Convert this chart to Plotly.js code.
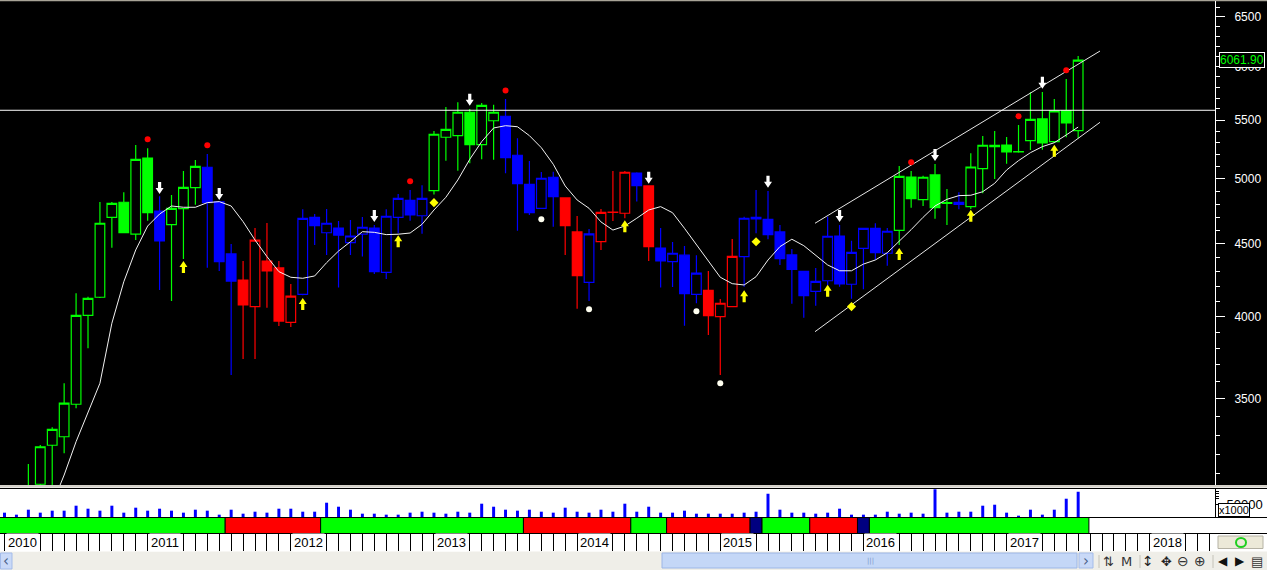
<!DOCTYPE html>
<html><head><meta charset="utf-8">
<script src="https://cdn.plot.ly/plotly-3.0.1.min.js"></script>
<style>html,body{margin:0;padding:0;background:#fff;overflow:hidden}#chart{width:1267px;height:570px}</style>
</head><body><div id="chart"></div>
<script>
// ---------- DATA (monthly, index 0 = Jan 2010) ----------
const open = [2780,2850,2930,3048,3247,3292,3470,4008,4127,4698,
  4814,4571,5172,4746,4642,4764,4929,5095,4818,4427,
  4244,4065,4377,4328,3963,4147,4698,4582,4617,4509,
  4571,4617,4297,4698,4829,4710,4905,5349,5363,5570,
  5285,5494,5534,5195,4956,4767,5013,4848,4588,4228,
  4516,4736,4729,5048,4943,4470,4372,4418,4147,4174,
  3999,4065,4408,4698,4683,4588,4420,4304,4167,4239,
  4558,4215,4468,4615,4432,4600,5015,4834,5032,4811,
  4814,4780,5083,5280,5282,5226,5319,5510,5311,5584,5406];
const high = [2880,2960,3150,3248,3343,3590,4154,4131,4816,4816,
  4893,5282,5254,4861,4871,5064,5155,5206,4820,4499,
  4377,4617,4655,4377,4217,4759,4723,4762,4670,4678,
  4701,4640,4759,4879,4911,4948,5404,5618,5661,5600,
  5654,5639,5691,5340,5147,5056,5059,4850,4708,4610,
  4762,5064,5064,5054,4945,4617,4514,4485,4418,4307,
  4115,4536,4703,4911,4903,4640,4463,4307,4328,4703,
  4640,4523,4617,4653,4617,5106,5064,5026,5122,4919,
  4893,5212,5360,5404,5351,5456,5753,5756,5691,5879,6102];
const low = [2720,2800,2900,3040,3030,3205,3447,3799,4122,4472,
  4578,4528,4672,4176,4102,4391,4795,4330,4306,3639,
  3734,3734,4058,3939,3933,4140,4492,4420,4192,4420,
  4408,4286,4251,4578,4672,4575,4874,5150,5067,5128,
  5161,5158,5046,4597,4716,4762,4627,4420,4051,4102,
  4456,4670,4691,4819,4377,4192,4196,3941,4087,3882,
  3639,4060,4198,4578,4534,4349,4084,3993,4071,4210,
  4198,4117,4181,4384,4344,4492,4772,4785,4687,4640,
  4759,4762,4885,4999,5125,5217,5240,5242,5300,5349,5340];
const close = [2850,2930,3030,3239,3332,3476,4008,4120,4653,4806,
  4582,5161,4733,4521,4767,4932,5103,4811,4372,4237,
  4076,4528,4307,3971,4134,4690,4635,4653,4565,4558,
  4623,4302,4706,4845,4716,4845,5375,5418,5570,5285,
  5633,5570,5175,4961,4733,5005,4858,4635,4274,4573,
  4736,4738,5054,4945,4480,4377,4432,4151,4291,4006,
  4087,4410,4691,4685,4568,4393,4318,4138,4235,4556,
  4217,4439,4615,4436,4593,5021,4842,5013,4772,4806,
  4798,5097,5280,5268,5223,5224,5507,5300,5582,5474,6061.90];
// candle trend state: G = green, B = blue, R = red
const trendState = ['G','G','G','G','G','G','G','G','G','G','G','G','G','B','G','G','G','B','B','B',
  'R','R','R','R','R','B','B','B','B','B','B','B','B','B','B','B','G','G','G','G',
  'G','G','B','B','B','B','B','R','R','B','R','R','R','B','R','B','B','B','B','R',
  'R','R','B','B','B','B','B','B','B','B','B','B','B','B','B','G','G','G','G','G',
  'B','G','G','G','G','G','G','G','G','G','G'];
const movingAvg = [null,null,null,null,2950,3094,3266,3420,3590,3957,
  4232,4456,4632,4723,4785,4775,4775,4811,4819,4785,
  4665,4528,4408,4302,4263,4256,4272,4365,4448,4516,
  4590,4585,4568,4571,4580,4645,4754,4853,4991,5161,
  5311,5430,5450,5441,5363,5259,5120,4943,4832,4767,
  4663,4602,4632,4691,4754,4780,4733,4615,4492,4379,
  4263,4219,4210,4267,4384,4480,4534,4487,4415,4349,
  4308,4308,4355,4384,4436,4517,4605,4698,4785,4837,
  4866,4869,4897,4964,5072,5150,5217,5268,5302,5369,5438];
const volume = [16700,9000,28200,16700,24400,24400,43600,32000,24400,43600,
  16700,35900,24400,32000,24400,16700,28200,24400,9000,28200,
  12800,20500,16700,32000,32000,20500,20500,55100,39700,28200,
  12800,12800,9000,9000,16700,20500,16700,12800,20500,16700,
  51300,39700,28200,24400,28200,20500,16700,35900,20500,16700,
  28200,20500,51300,20500,39700,16700,16700,24400,12800,12800,
  12800,12800,16700,20500,89700,28200,16700,16700,12800,16700,
  32000,9000,9000,9000,20500,12800,16700,12800,107000,16700,
  20500,20500,43600,47400,16700,5100,28200,9000,28200,70500,97400];
// trend band segments (month index boundaries)
const segStart = [-0.5,18.5,26.5,43.5,52.5,55.5,62.5,63.5,67.5,71.5,72.5];
const segEnd   = [18.5,26.5,43.5,52.5,55.5,62.5,63.5,67.5,71.5,72.5,90.9];
const segState = ['G','R','G','R','G','R','N','G','R','N','G'];
// signals
const redDotIdx = [12,17,34,42,76,85,89];
const redDotPrice = [5331,5280,4981,5769,5136,5534,5962];
const whiteArrowIdx = [13,18,31,39,54,64,70,78,87];
const whiteArrowPrice = [4926,4879,4708,5685,5010,4977,4708,5197,5843];
const yellowArrowIdx = [15,25,33,52,62,69,75,81,88];
const yellowArrowPrice = [4335,4082,4520,4631,4133,4171,4427,4710,5233];
const yellowDiamondIdx = [36,63,71];
const yellowDiamondPrice = [4811,4516,4065];
const whiteDotIdx = [45,49,58,60];
const whiteDotPrice = [4683,4047,4034,3590];
// trend channel and resistance
const channelIdx = [67.94,91.83];
const channelUpper = [4653,6151];
const channelLower = [3903,5480];
const resistanceLevel = 5588;
// axis labels
const priceTicks = [3500,4000,4500,5000,5500,6000,6500];
const priceTickText = ['3500','4000','4500','5000','5500','6000','6500'];
const yearLabels = ['2010','2011','2012','2013','2014','2015','2016','2017','2018'];
const yearIdx = [0,12,24,36,48,60,72,84,96];
const volTicks = [50000];
const volTickText = ['50000'];

// ---------- LAYOUT HELPERS ----------
const W = 1267, H = 570;
const px = v => v / W;
const py = v => 1 - v / H;
const xRange = [-0.377, 101.47];
const idx = open.map((_, i) => i);
const monthTicks = []; for (let i = 0; i <= 101; i++) monthTicks.push(i);
const minorPrice = []; for (let v = 3100; v <= 6600; v += 100) if (v % 500) minorPrice.push(v);
const colorMap = {G:'#00ff00', B:'#0000ff', R:'#ff0000', N:'#000080'};
const FONT = 'Liberation Sans, Arial, sans-serif';

const traces = [];
['G','B','R'].forEach(s => {
  const ii = idx.filter(i => trendState[i] === s);
  traces.push({type:'candlestick', x: ii, open: ii.map(i=>open[i]), high: ii.map(i=>high[i]),
    low: ii.map(i=>low[i]), close: ii.map(i=>close[i]), xaxis:'x', yaxis:'y',
    whiskerwidth:0, hoverinfo:'skip',
    increasing:{line:{color:colorMap[s], width:1.2}, fillcolor:'#000000'},
    decreasing:{line:{color:colorMap[s], width:1.2}, fillcolor:colorMap[s]}});
});
traces.push({type:'scatter', mode:'lines', x: idx, y: movingAvg, yaxis:'y',
  line:{color:'#f2f2f2', width:1}, hoverinfo:'skip'});
traces.push({type:'scatter', mode:'lines', x: channelIdx, y: channelUpper, yaxis:'y',
  line:{color:'#e6e6e6', width:1}, hoverinfo:'skip'});
traces.push({type:'scatter', mode:'lines', x: channelIdx, y: channelLower, yaxis:'y',
  line:{color:'#e6e6e6', width:1}, hoverinfo:'skip'});
traces.push({type:'scatter', mode:'lines', x: xRange, y: [resistanceLevel, resistanceLevel], yaxis:'y',
  line:{color:'#ffffff', width:1}, hoverinfo:'skip'});
traces.push({type:'scatter', mode:'markers', x: redDotIdx, y: redDotPrice, yaxis:'y',
  marker:{color:'#ff0000', size:6, line:{width:0}}, hoverinfo:'skip'});
traces.push({type:'scatter', mode:'markers', x: yellowDiamondIdx, y: yellowDiamondPrice, yaxis:'y',
  marker:{color:'#ffff00', size:7, symbol:'diamond', line:{width:0}}, hoverinfo:'skip'});
traces.push({type:'scatter', mode:'markers', x: whiteDotIdx, y: whiteDotPrice, yaxis:'y',
  marker:{color:'#fffff0', size:6, line:{width:0}}, hoverinfo:'skip'});
traces.push({type:'bar', x: idx, y: volume, yaxis:'y2', width:0.25,
  marker:{color:'#0000ff', line:{width:0}}, hoverinfo:'skip'});
traces.push({type:'bar', x: segStart.map((s,k)=>(s+segEnd[k])/2), y: segStart.map(()=>1),
  width: segStart.map((s,k)=>segEnd[k]-s), base:0, yaxis:'y3',
  marker:{color: segState.map(s=>colorMap[s]), line:{color:'#000', width:1}}, hoverinfo:'skip'});
traces.push({type:'scatter', x:[], y:[], yaxis:'y4', hoverinfo:'skip'});

// ---------- SHAPES ----------
const shapes = [];
const rect = (x0,y0,x1,y1,fill,lc,lw,layer) => shapes.push({type:'rect', xref:'paper', yref:'paper',
  x0:px(x0), x1:px(x1), y0:py(y1), y1:py(y0), fillcolor:fill, line:{color:lc||fill, width:lw||0}, layer:layer||'below'});
const hline = (y,x0,x1,c,w) => shapes.push({type:'line', xref:'paper', yref:'paper', x0:px(x0), x1:px(x1), y0:py(y), y1:py(y), line:{color:c, width:w||1}, layer:'above'});
const vline = (x,y0,y1,c,w) => shapes.push({type:'line', xref:'paper', yref:'paper', x0:px(x), x1:px(x), y0:py(y0), y1:py(y1), line:{color:c, width:w||1}, layer:'above'});

rect(0,0,W,485,'#000000');
rect(0,0,W,1.3,'#a8a497');
rect(0,485,W,487.6,'#d4d0c8');
hline(488.5,0,W,'#000000',1);
hline(517.5,0,W,'#000000',1);
hline(533.5,0,W,'#000000',1);
// scroll area
rect(0,551.5,W,570,'#efeee8');
rect(0.5,553,12,569,'#c9d9f7','#a3bbe9',1);
rect(662,553,1077,568,'#c4d7f7','#9cb6e6',1);
rect(1079,553,1093,568,'#c9d9f7','#a3bbe9',1);
vline(1099,555,568,'#c4c2b8',1);
vline(1140,555,568,'#c4c2b8',1);
vline(1213,555,568,'#c4c2b8',1);
// date-axis right box
rect(1218,536,1263,548.5,'#ece9d8','#b5b2a4',1);
shapes.push({type:'circle', xref:'paper', yref:'paper', x0:px(1236), x1:px(1246), y0:py(547), y1:py(538),
  line:{color:'#1fcf1f', width:2}, fillcolor:'rgba(0,0,0,0)', layer:'above'});

// signal arrows
const downPath = 'M-1.6,6L1.6,6L1.6,0L4,0L0,-6L-4,0L-1.6,0Z';
const upPath = 'M-1.6,-6L1.6,-6L1.6,0L4,0L0,6L-4,0L-1.6,0Z';
whiteArrowIdx.forEach((i,k) => shapes.push({type:'path', xref:'x', yref:'y', xsizemode:'pixel', ysizemode:'pixel',
  xanchor:i, yanchor:whiteArrowPrice[k], path:downPath, fillcolor:'#ffffff', line:{width:0}, layer:'above'}));
yellowArrowIdx.forEach((i,k) => shapes.push({type:'path', xref:'x', yref:'y', xsizemode:'pixel', ysizemode:'pixel',
  xanchor:i, yanchor:yellowArrowPrice[k], path:upPath, fillcolor:'#ffff00', line:{width:0}, layer:'above'}));

// ---------- ANNOTATIONS ----------
const annotations = [];
yearLabels.forEach((t,k) => annotations.push({text:t, xref:'x', x:yearIdx[k], xanchor:'left', xshift:1,
  yref:'paper', y:py(542.5), yanchor:'middle', showarrow:false, bgcolor:'#ffffff', borderpad:1,
  font:{family:FONT, size:13, color:'#000'}}));
const lastClose = close[close.length-1];
annotations.push({text:lastClose.toFixed(2), xref:'paper', x:px(1219), xanchor:'left', yref:'y',
  y:Math.log10(lastClose), yanchor:'middle', showarrow:false, bgcolor:'#000', bordercolor:'#fff',
  borderwidth:1, borderpad:0, font:{family:FONT, size:12, color:'#00ff00'}});
annotations.push({text:'x1000', xref:'paper', x:px(1218), xanchor:'left', yref:'paper', y:py(516.5),
  yanchor:'bottom', showarrow:false, bgcolor:'#fff', bordercolor:'#000', borderwidth:1, borderpad:0,
  font:{family:FONT, size:11, color:'#000'}});
const icon = (t,x,size,col) => annotations.push({text:t, xref:'paper', x:px(x), xanchor:'center', yref:'paper',
  y:py(561), yanchor:'middle', showarrow:false, font:{family:'DejaVu Sans, sans-serif', size:size||13, color:col||'#333'}});
icon('‹',6,15,'#4a5f88');
icon('|||',870,7,'#7d98cc');
icon('›',1086,15,'#4a5f88');
icon('⇅',1108,13);
icon('M',1126,13);
icon('↕',1148,14,'#222');
icon('✥',1166,13,'#222');
icon('⊖',1183,14);
icon('⊕',1200,14);
icon('◀',1223,12,'#111');
icon('▶',1240,12,'#111');
icon('▤',1257,13);

const layout = {
  width:W, height:H, margin:{l:0,r:0,t:0,b:0,pad:0},
  paper_bgcolor:'#ffffff', plot_bgcolor:'rgba(0,0,0,0)',
  showlegend:false, hovermode:false, dragmode:false,
  boxgap:0.1, boxgroupgap:0.1, barmode:'overlay',
  xaxis:{domain:[0,1215/W], range:xRange, anchor:'y4', showgrid:false, zeroline:false, showline:false,
    ticks:'inside', ticklen:17, tickwidth:1, tickcolor:'#000', tickmode:'array', tickvals:monthTicks,
    showticklabels:false, rangeslider:{visible:false}, fixedrange:true},
  yaxis:{domain:[py(485),py(1)], type:'log', range:[3.48349,3.82417], side:'right', anchor:'x',
    showgrid:false, zeroline:false, showline:true, linecolor:'#ffffff', linewidth:1,
    ticks:'outside', ticklen:9, tickwidth:1, tickcolor:'#ffffff', tickmode:'array',
    tickvals:priceTicks, ticktext:priceTickText, ticklabelstandoff:7,
    tickfont:{family:FONT, size:12, color:'#ffffff'},
    minor:{tickmode:'array', tickvals:minorPrice, ticks:'outside', ticklen:4, tickwidth:1, tickcolor:'#ffffff', showgrid:false},
    fixedrange:true},
  yaxis2:{domain:[py(517),py(489)], range:[0,108000], side:'right', anchor:'x', showgrid:false, zeroline:false,
    showline:true, linecolor:'#000', linewidth:1, ticks:'outside', ticklen:6, tickcolor:'#000',
    tickmode:'array', tickvals:volTicks, ticktext:volTickText, ticklabelstandoff:2,
    tickfont:{family:FONT, size:13, color:'#000'},
    minor:{tickmode:'array', tickvals:[70000,80000,90000,100000], ticks:'outside', ticklen:3, tickcolor:'#000', showgrid:false},
    fixedrange:true},
  yaxis3:{domain:[py(533.5),py(517.5)], range:[0,1], visible:false, anchor:'x', fixedrange:true},
  yaxis4:{domain:[py(551),py(534)], range:[0,1], visible:false, anchor:'x', fixedrange:true},
  shapes:shapes, annotations:annotations
};
Plotly.newPlot('chart', traces, layout, {staticPlot:true, displayModeBar:false});
</script></body></html>
